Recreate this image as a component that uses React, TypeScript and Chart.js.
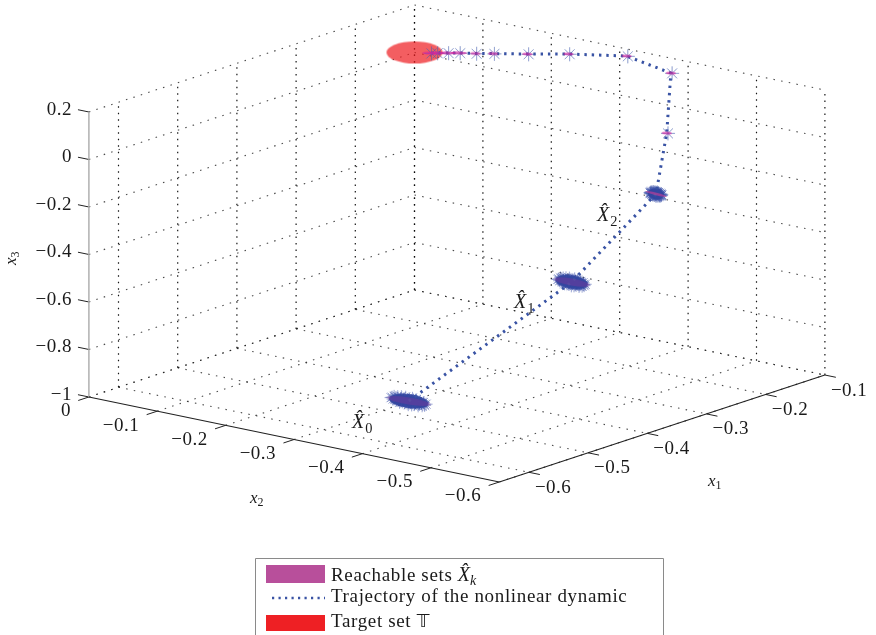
import React, { useEffect, useRef } from "react";
import { Chart, registerables } from "chart.js";

Chart.register(...registerables);

// ---------- data (axis units) ----------
const x1Ticks = [-0.6, -0.5, -0.4, -0.3, -0.2, -0.1];
const x2Ticks = [0, -0.1, -0.2, -0.3, -0.4, -0.5, -0.6];
const x3Ticks = [-1, -0.8, -0.6, -0.4, -0.2, 0, 0.2];
const x1Range = [-0.65, -0.1];
const x2Range = [0, -0.6];
const x3Range = [-1, 0.2];

const trajX1 = [-0.454, -0.181, -0.108, -0.113, -0.106, -0.1, -0.1, -0.1, -0.1, -0.1, -0.1, -0.1, -0.1, -0.1];
const trajX2 = [-0.298, -0.3, -0.36, -0.38, -0.38, -0.31, -0.225, -0.165, -0.115, -0.089, -0.065, -0.048, -0.032, -0.023];
const trajX3 = [-1, -0.721, -0.374, -0.102, 0.145, 0.17, 0.128, 0.092, 0.064, 0.049, 0.037, 0.027, 0.017, 0.011];

const target = [-0.1, 0, 0];

// members of each reachable set, relative to the trajectory point, in hundredths of the set's half-width
const setMembers = [
  [-96, 12], [-88, -25], [-81, 38], [-74, -48], [-70, 5], [-63, 55], [-58, -30], [-52, -70],
  [-47, 22], [-41, 72], [-37, -12], [-31, -58], [-26, 44], [-21, 88], [-16, -80], [-11, 14],
  [-6, -36], [-2, 62], [3, -92], [7, 28], [12, -18], [17, 80], [22, -66], [26, 40],
  [31, -6], [36, -52], [41, 70], [46, 16], [51, -78], [56, -28], [61, 52], [66, -44],
  [71, 24], [76, -14], [81, 42], [87, -30], [92, 10], [98, -6], [-30, 0], [0, 0],
  [30, 10], [-60, -8], [60, -5], [-15, 30], [15, -40], [45, -20], [-45, -15], [-85, 2],
];
const setCounts = [48, 48, 48, 2, 2, 2, 2, 2, 2, 2, 2, 2, 2, 2];
const setHalfX2 = [0.0264, 0.0205, 0.009, 0.002, 0.002, 0.002, 0.002, 0.002, 0.002, 0.002, 0.002, 0.002, 0.002, 0.002];
const setHalfX3 = [0.017, 0.018, 0.011, 0.002, 0.002, 0.002, 0.002, 0.002, 0.002, 0.002, 0.002, 0.002, 0.002, 0.002];

const legendLabels = ["Reachable sets ", "Trajectory of the nonlinear dynamic", "Target set "];

// ---------- 3D view ----------
const W = 876;
const H = 635;
const project = (x1: number, x2: number, x3: number) => ({
  x: 414.5 + 592 * (x1 + 0.1) - 684 * x2,
  y: 290 - 194.5 * (x1 + 0.1) - 141.7 * x2 - 237.5 * (x3 + 1),
});

const BLUE = "#3953a4";
const SERIF = '"Liberation Serif", serif';

function ellipseSprite(rx: number, ry: number, rotDeg: number, color: string) {
  const c = document.createElement("canvas");
  const s = Math.ceil(Math.max(rx, ry) * 2 + 4);
  c.width = s;
  c.height = s;
  const g = c.getContext("2d")!;
  g.fillStyle = color;
  g.beginPath();
  g.ellipse(s / 2, s / 2, rx, ry, (rotDeg * Math.PI) / 180, 0, Math.PI * 2);
  g.fill();
  return c;
}

function line(a: number[], b: number[], color: string, width: number, dash: number[], order: number) {
  return {
    type: "scatter",
    showLine: true,
    data: [project(a[0], a[1], a[2]), project(b[0], b[1], b[2])],
    borderColor: color,
    borderWidth: width,
    borderDash: dash,
    pointRadius: 0,
    order,
    clip: false,
  };
}

function buildDatasets() {
  const ds: any[] = [];
  const dot = [1.5, 6.3];
  const floor = "rgba(30,30,30,0.8)";
  const wall = "rgba(10,10,10,0.95)";
  const [a0, a1] = x1Range;
  const [b0, b1] = x2Range;
  const [c0, c1] = x3Range;

  for (const t of x1Ticks) {
    ds.push(line([t, b0, c0], [t, b1, c0], floor, 1.1, dot, 50));
    ds.push(line([t, b0, c0], [t, b0, c1], wall, 1.2, [1.5, 5], 50));
  }
  for (const t of x2Ticks) {
    ds.push(line([a0, t, c0], [a1, t, c0], floor, 1.1, dot, 50));
    ds.push(line([a1, t, c0], [a1, t, c1], wall, 1.2, [1.5, 5], 50));
  }
  for (const t of x3Ticks) {
    ds.push(line([a0, b0, t], [a1, b0, t], floor, 1.1, dot, 50));
    ds.push(line([a1, b0, t], [a1, b1, t], floor, 1.1, dot, 50));
  }

  // axes and tick marks
  ds.push(line([a0, b0, c0], [a0, b1, c0], "#222", 1.1, [], 45));
  ds.push(line([a0, b1, c0], [a1, b1, c0], "#222", 1.1, [], 45));
  ds.push(line([a0, b0, c0], [a0, b0, c1], "#aaa", 1.4, [], 45));
  for (const t of x1Ticks) ds.push(line([t, b1, c0], [t, b1 - 0.016, c0], "#222", 1, [], 45));
  for (const t of x2Ticks) ds.push(line([a0, t, c0], [a0 - 0.018, t, c0], "#222", 1, [], 45));
  for (const t of x3Ticks) ds.push(line([a0, b0, t], [a0, b0 + 0.016, t], "#222", 1, [], 45));

  // target set
  ds.push({
    type: "scatter",
    data: [project(target[0], target[1], target[2])],
    pointStyle: ellipseSprite(28, 11, 0, "rgba(238,32,36,0.72)"),
    pointRadius: 1,
    order: 40,
    clip: false,
  });

  // reachable sets: members
  trajX1.forEach((x1, k) => {
    ds.push({
      type: "scatter",
      data: setMembers.slice(0, setCounts[k]).map(([u, v]) =>
        project(x1, trajX2[k] + (u / 100) * setHalfX2[k], trajX3[k] + (v / 100) * setHalfX3[k])
      ),
      pointStyle: "star",
      pointRadius: k < 3 ? 6.5 : 7,
      borderColor: k < 3 ? "rgba(66,86,172,0.62)" : "rgba(70,95,175,0.42)",
      backgroundColor: "transparent",
      pointBorderWidth: 0.85,
      order: 30,
      clip: false,
    });
  });

  // reachable sets: core and hull
  const core = [
    [20, 7, 8, "rgba(50,70,160,0.95)"],
    [16.5, 7, 9, "rgba(50,70,160,0.95)"],
    [8, 5.5, 8, "rgba(50,70,160,0.95)"],
  ];
  core.forEach((c: any, k) => {
    ds.push({
      type: "scatter",
      data: [project(trajX1[k], trajX2[k], trajX3[k])],
      pointStyle: ellipseSprite(c[0], c[1], c[2], c[3]),
      pointRadius: 1,
      order: 28,
      clip: false,
    });
  });
  const hull = [
    [22, 3.5, 9, "rgba(200,40,150,0.22)"],
    [18, 3.5, 10, "rgba(200,40,150,0.22)"],
    [11, 1.2, 14, "rgba(225,60,150,0.55)"],
  ];
  trajX1.forEach((x1, k) => {
    const h: any = hull[k] || [k > 9 ? 8 : 5, 1.6, 2, "rgba(214,36,159,0.62)"];
    ds.push({
      type: "scatter",
      data: [project(x1, trajX2[k], trajX3[k])],
      pointStyle: ellipseSprite(h[0], h[1], h[2], h[3]),
      pointRadius: 1,
      order: 20,
      clip: false,
    });
  });

  // trajectory
  ds.push({
    type: "scatter",
    showLine: true,
    data: trajX1.map((x1, k) => project(x1, trajX2[k], trajX3[k])),
    borderColor: BLUE,
    borderWidth: 3,
    borderDash: [2.4, 4.9],
    pointRadius: 0,
    order: 25,
    clip: false,
  });
  return ds;
}

function hatX(ctx: CanvasRenderingContext2D, x: number, y: number, size: number, sub: string) {
  ctx.textAlign = "left";
  ctx.textBaseline = "alphabetic";
  ctx.font = `italic ${size}px ${SERIF}`;
  ctx.fillText("X\u0302", x, y);
  const w = ctx.measureText("X").width;
  ctx.font = `${size * 0.72}px ${SERIF}`;
  ctx.fillText(sub, x + w + 1, y + size * 0.24);
}

const labelsPlugin = {
  id: "labels3d",
  afterDraw(chart: any) {
    const ctx: CanvasRenderingContext2D = chart.ctx;
    ctx.save();
    ctx.fillStyle = "#1a1a1a";
    const fmt = (v: number) => (v < 0 ? "\u2212" : "") + String(Math.abs(v));
    ctx.font = `19px ${SERIF}`;
    (ctx as any).letterSpacing = "0.5px";
    ctx.textBaseline = "middle";

    ctx.textAlign = "right";
    for (const t of x3Ticks) {
      const p = project(x1Range[0], x2Range[0], t);
      ctx.fillText(fmt(t), p.x - 17, p.y - 2);
    }
    for (const t of x2Ticks) {
      const p = project(x1Range[0], t, x3Range[0]);
      ctx.fillText(fmt(t), p.x - 18, p.y + 14.5);
    }
    ctx.textAlign = "left";
    for (const t of x1Ticks) {
      const p = project(t, x2Range[1], x3Range[0]);
      ctx.fillText(fmt(t), p.x + 6, p.y + 15.5);
    }
    (ctx as any).letterSpacing = "0px";

    // axis titles
    const axisTitle = (x: number, y: number, sub: string) => {
      ctx.textAlign = "left";
      ctx.textBaseline = "alphabetic";
      ctx.font = `italic 17px ${SERIF}`;
      ctx.fillText("x", x, y);
      const w = ctx.measureText("x").width;
      ctx.font = `12px ${SERIF}`;
      ctx.fillText(sub, x + w, y + 3);
    };
    axisTitle(708, 486, "1");
    axisTitle(250, 503, "2");
    ctx.save();
    ctx.translate(16, 265);
    ctx.rotate(-Math.PI / 2);
    axisTitle(0, 0, "3");
    ctx.restore();

    // set labels
    hatX(ctx, 352, 428, 20, "0");
    hatX(ctx, 514, 308, 20, "1");
    hatX(ctx, 597, 221, 20, "2");

    // legend
    ctx.strokeStyle = "#8a8a8a";
    ctx.lineWidth = 1;
    ctx.beginPath();
    ctx.moveTo(255.5, H);
    ctx.lineTo(255.5, 558.5);
    ctx.lineTo(663.5, 558.5);
    ctx.lineTo(663.5, H);
    ctx.stroke();

    ctx.fillStyle = "#b84f9b";
    ctx.fillRect(266, 565, 59, 18);
    ctx.fillStyle = "#ee2024";
    ctx.fillRect(266, 615, 59, 16);
    ctx.strokeStyle = BLUE;
    ctx.lineWidth = 2.6;
    ctx.setLineDash([2.2, 4.3]);
    ctx.beginPath();
    ctx.moveTo(272, 598);
    ctx.lineTo(325, 598);
    ctx.stroke();
    ctx.setLineDash([]);

    ctx.fillStyle = "#1a1a1a";
    ctx.textAlign = "left";
    ctx.textBaseline = "alphabetic";
    ctx.font = `19px ${SERIF}`;
    (ctx as any).letterSpacing = "0.65px";
    ctx.fillText(legendLabels[0], 331, 581);
    const w0 = ctx.measureText(legendLabels[0]).width;
    ctx.fillText(legendLabels[1], 331, 602);
    ctx.fillText(legendLabels[2], 331, 627);
    const w2 = ctx.measureText(legendLabels[2]).width;
    (ctx as any).letterSpacing = "0px";
    ctx.save();
    ctx.textBaseline = "alphabetic";
    const hx = 331 + w0;
    ctx.font = `italic 20px ${SERIF}`;
    ctx.fillText("X\u0302", hx, 581);
    const wx = ctx.measureText("X").width;
    ctx.font = `italic 14px ${SERIF}`;
    ctx.fillText("k", hx + wx, 585);
    ctx.restore();
    ctx.font = `18px "DejaVu Sans", ${SERIF}`;
    ctx.fillText("\u{1D54B}", 331 + w2, 627);
    ctx.restore();
  },
};

export default function App() {
  const ref = useRef<HTMLCanvasElement>(null);
  useEffect(() => {
    document.body.style.margin = "0";
    const chart = new Chart(ref.current!, {
      type: "scatter",
      data: { datasets: buildDatasets() },
      options: {
        animation: false,
        responsive: false,
        events: [],
        layout: { padding: 0, autoPadding: false },
        scales: {
          x: { type: "linear", min: 0, max: W, display: false },
          y: { type: "linear", min: 0, max: H, reverse: true, display: false },
        },
        plugins: { legend: { display: false }, tooltip: { enabled: false } },
      },
      plugins: [labelsPlugin],
    } as any);
    return () => chart.destroy();
  }, []);
  return <canvas ref={ref} width={W} height={H} style={{ display: "block", background: "#fff" }} />;
}
